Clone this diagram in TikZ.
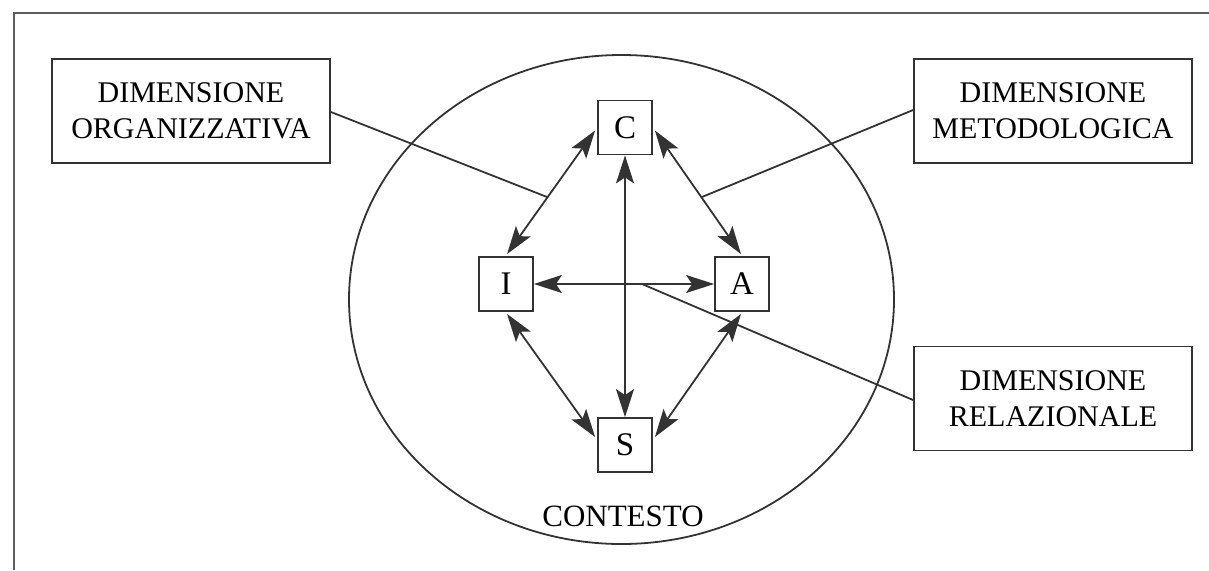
\documentclass[tikz,border=0pt]{standalone}
\usepackage{fontspec}
\setmainfont{Liberation Serif}
\usetikzlibrary{arrows.meta,calc}
\definecolor{ln}{HTML}{333333}
\tikzset{
  dimbox/.style={draw=ln, line width=1.8pt, minimum width=278pt, minimum height=104pt, align=center, inner sep=0pt, font=\fontsize{30}{36}\selectfont},
  letterbox/.style={draw=ln, line width=1.8pt, minimum size=54pt, inner sep=0pt, font=\fontsize{33}{36}\selectfont},
  conn/.style={draw=ln, line width=1.8pt},
  bighead/.tip={Stealth[length=28pt,width=18pt,inset=6pt]},
  biarrow/.style={draw=ln, fill=ln, line width=1.8pt, bighead-bighead}
}
\begin{document}
\begin{tikzpicture}[x=1pt,y=-1pt]
\useasboundingbox (0,0) rectangle (1209,570);
\draw[draw=ln!80, line width=1.8pt] (14,570) -- (14,13) -- (1209,13);
\draw[ln, line width=1.8pt] (621.5,299.5) ellipse [x radius=272.5pt, y radius=244.5pt];
\node[font=\fontsize{31}{36}\selectfont] (contesto) at (623,516) {CONTESTO};
\node[letterbox] (C) at (625,127.5) {C};
\node[letterbox] (I) at (506,284) {I};
\node[letterbox] (A) at (742,284) {A};
\node[letterbox] (S) at (625,445) {S};
\node[dimbox] (org) at (191,111) {DIMENSIONE\\ORGANIZZATIVA};
\node[dimbox] (met) at (1053,111) {DIMENSIONE\\METODOLOGICA};
\node[dimbox] (rel) at (1053,398.5) {DIMENSIONE\\RELAZIONALE};
\path[biarrow] ($(C.west)+(-2,3)$) -- ($(I.north)+(1,-2)$);
\path[biarrow] ($(C.east)+(2,3)$) -- ($(A.north)+(-1,-2)$);
\path[biarrow] ($(I.south)+(1,2)$) -- ($(S.west)+(-2,-8)$);
\path[biarrow] ($(A.south)+(-1,2)$) -- ($(S.east)+(2,-8)$);
\path[biarrow] (I.east) -- (A.west);
\path[biarrow] (C.south) -- (S.north);
\coordinate (po) at (547,197);
\coordinate (pm) at (702,197);
\coordinate (pr) at (642,284);
\draw[conn] (org.east) ++(0,1) -- (po);
\draw[conn] (met.west) ++(0,-1) -- (pm);
\draw[conn] (rel.west) ++(0,1.5) -- (pr);
\end{tikzpicture}
\end{document}
